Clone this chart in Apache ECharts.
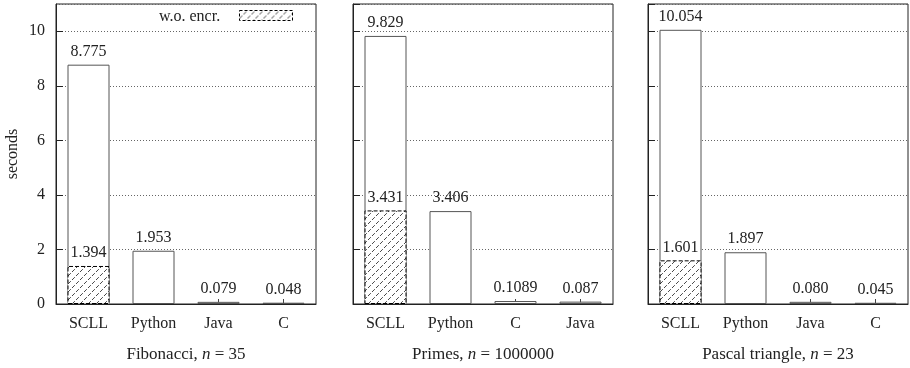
<!DOCTYPE html>
<html><head><meta charset="utf-8">
<script src="https://cdn.jsdelivr.net/npm/echarts@6/dist/echarts.min.js"></script>
<style>html,body{margin:0;padding:0;background:#fff}#c{width:910px;height:368px}</style>
</head><body><div id="c"></div>
<script>
// ---- data ----
const categories1 = ['SCLL', 'Python', 'Java', 'C'];
const values1 = ['8.775', '1.953', '0.079', '0.048'];
const noEncr1 = ['1.394', null, null, null];
const title1 = ['Fibonacci, ', 'n', ' = 35'];

const categories2 = ['SCLL', 'Python', 'C', 'Java'];
const values2 = ['9.829', '3.406', '0.1089', '0.087'];
const noEncr2 = ['3.431', null, null, null];
const title2 = ['Primes, ', 'n', ' = 1000000'];

const categories3 = ['SCLL', 'Python', 'Java', 'C'];
const values3 = ['10.054', '1.897', '0.080', '0.045'];
const noEncr3 = ['1.601', null, null, null];
const title3 = ['Pascal triangle, ', 'n', ' = 23'];

const yMin = 0, yMax = 11, yInterval = 2;
const yName = 'seconds';
const legendName = 'w.o. encr.';

// ---- styling ----
const FONT = 'Liberation Serif';
const FS = 16;
const TXT = '#222';
function hatch() {
  const s = 8, c = document.createElement('canvas');
  c.width = s; c.height = s;
  const g = c.getContext('2d');
  g.fillStyle = '#fff'; g.fillRect(0, 0, s, s);
  g.strokeStyle = '#333'; g.lineWidth = 0.9;
  g.setLineDash([4, 1.657]);
  g.beginPath(); g.moveTo(0, s); g.lineTo(s, 0); g.stroke();
  g.setLineDash([]);
  return c;
}
const hatchPattern = { image: hatch(), repeat: 'repeat' };

const panels = [
  { cats: categories1, vals: values1, ne: noEncr1, title: title1, left: 56 },
  { cats: categories2, vals: values2, ne: noEncr2, title: title2, left: 353 },
  { cats: categories3, vals: values3, ne: noEncr3, title: title3, left: 648 }
];

const grid = [], xAxis = [], yAxis = [], series = [];
panels.forEach((p, i) => {
  grid.push({ left: p.left, width: 260, top: 4, bottom: 63, show: true,
    borderColor: '#222', borderWidth: 1, backgroundColor: 'transparent' });
  xAxis.push({ type: 'category', gridIndex: i, data: p.cats,
    axisLine: { show: true, lineStyle: { color: '#222', width: 1 } },
    axisTick: { show: true, inside: true, alignWithLabel: true, length: 5, lineStyle: { color: '#444' } },
    axisLabel: { color: TXT, fontFamily: FONT, fontSize: FS, margin: 12 },
    name: '{a|' + p.title[0] + '}{i|' + p.title[1] + '}{a|' + p.title[2] + '}',
    nameLocation: 'middle', nameGap: 42,
    nameTextStyle: { rich: {
      a: { fontFamily: FONT, fontSize: 17, color: TXT },
      i: { fontFamily: FONT, fontSize: 17, color: TXT, fontStyle: 'italic' } } }
  });
  yAxis.push({ type: 'value', gridIndex: i, min: yMin, max: yMax, interval: yInterval,
    axisLine: { show: true, lineStyle: { color: '#222' } },
    axisTick: { show: true, inside: true, length: 7, lineStyle: { color: '#222' } },
    axisLabel: { show: i === 0, color: TXT, fontFamily: FONT, fontSize: FS, margin: 11, showMaxLabel: false },
    splitLine: { show: true, lineStyle: { color: '#666', type: [1, 2], width: 1 } },
    name: i === 0 ? yName : '', nameLocation: 'middle', nameGap: 35, nameRotate: 90,
    nameTextStyle: { fontFamily: FONT, fontSize: FS, color: TXT }
  });
  series.push({ type: 'bar', name: 'encr', xAxisIndex: i, yAxisIndex: i,
    data: p.vals.map(Number), barWidth: 42, barGap: '-100%',
    itemStyle: { color: '#fff', borderColor: '#555', borderWidth: 1 },
    label: { show: true, position: 'top', distance: 5, color: TXT, fontFamily: FONT, fontSize: FS,
      formatter: (q) => p.vals[q.dataIndex] },
    z: 2
  });
  series.push({ type: 'bar', name: legendName, xAxisIndex: i, yAxisIndex: i,
    data: p.ne.map(v => v === null ? '-' : Number(v)), barWidth: 42, barGap: '-100%',
    itemStyle: { color: hatchPattern, borderColor: '#000', borderWidth: 1, borderType: 'dashed' },
    label: { show: true, position: 'top', distance: 5, color: TXT, fontFamily: FONT, fontSize: FS,
      formatter: (q) => p.ne[q.dataIndex] || '' },
    z: 3
  });
});

const chart = echarts.init(document.getElementById('c'), null, { renderer: 'canvas' });
chart.setOption({
  animation: false,
  grid, xAxis, yAxis, series,
  graphic: [{
    type: 'group', right: 617, top: 9, children: [
      { type: 'text', left: 0, top: -1, style: { text: legendName, fontFamily: FONT, fontSize: FS, fill: TXT } },
      { type: 'rect', left: 80, top: 0, shape: { width: 53, height: 10 },
        style: { fill: hatchPattern, stroke: '#000', lineWidth: 1, lineDash: [3, 2] } }
    ]
  }]
});
</script></body></html>
